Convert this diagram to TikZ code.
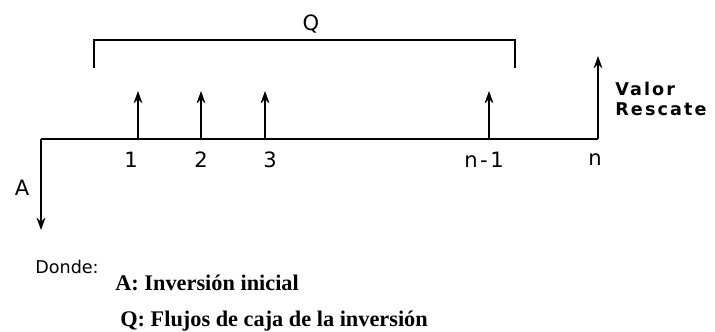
\documentclass[tikz,border=0pt]{standalone}
\usepackage{fontspec}
\usepackage{tikz}
\usetikzlibrary{arrows.meta, positioning}
\newfontfamily\labelfont[LetterSpace=12]{DejaVu Sans}
\newfontfamily\notefont{DejaVu Sans}
\newfontfamily\legendfont{Liberation Serif}

\begin{document}
\begin{tikzpicture}[
      x=0.02cm, y=-0.02cm,
      flow/.style={-{Stealth[length=7pt,width=5pt]}, line width=0.8pt},
      period/.style={font=\labelfont\large, inner sep=0pt},
      legend/.style={font=\legendfont\bfseries\fontsize{12.7}{15}\selectfont, anchor=west, inner sep=0pt}
    ]
      \useasboundingbox (0,0) rectangle (715,331);
      % time line
      \coordinate (t0) at (41,139);
      \coordinate (t1) at (138,139);
      \coordinate (t2) at (201,139);
      \coordinate (t3) at (265,139);
      \coordinate (tm) at (489,139);
      \coordinate (tn) at (598,139);
      \draw[line width=0.8pt] (t0) -- (tn);
      % cash flows
      \coordinate (a) at (41,230);
      \coordinate (q1) at (138,91);
      \coordinate (q2) at (201,91);
      \coordinate (q3) at (265,91);
      \coordinate (qm) at (489,91);
      \coordinate (qn) at (598,56);
      \draw[flow] (t0) -- (a);
      \draw[flow] (t1) -- (q1);
      \draw[flow] (t2) -- (q2);
      \draw[flow] (t3) -- (q3);
      \draw[flow] (tm) -- (qm);
      \draw[flow] (tn) -- (qn);
      % periods
      \node[period] (l1) at (131,160) {1};
      \node[period] (l2) at (201,160) {2};
      \node[period] (l3) at (270,160) {3};
      \node[period] (lm) at (484,160) {n-1};
      \node[period] (ln) at (595,160) {n};
      \node[period] (la) at (22,188) {A};
      \node[period, anchor=west, align=left, font=\labelfont\normalsize\bfseries] (vr) at (615,99) {Valor\\[-1pt]Rescate};
      % bracket
      \coordinate (bl) at (94,68);
      \coordinate (br) at (515,68);
      \draw[line width=0.6pt] (bl) -- (94,40) -- (515,40) -- (br);
      \node[period] (lq) at (311,24) {Q};
      % legend
      \node[period, anchor=west, font=\notefont\normalsize] (dn) at (35,267) {Donde:};
      \node[legend] (la2) at (115,283) {A: Inversión inicial};
      \node[legend] (lq2) at (120,321) {Q: Flujos de caja de la inversión};
\end{tikzpicture}
\end{document}
